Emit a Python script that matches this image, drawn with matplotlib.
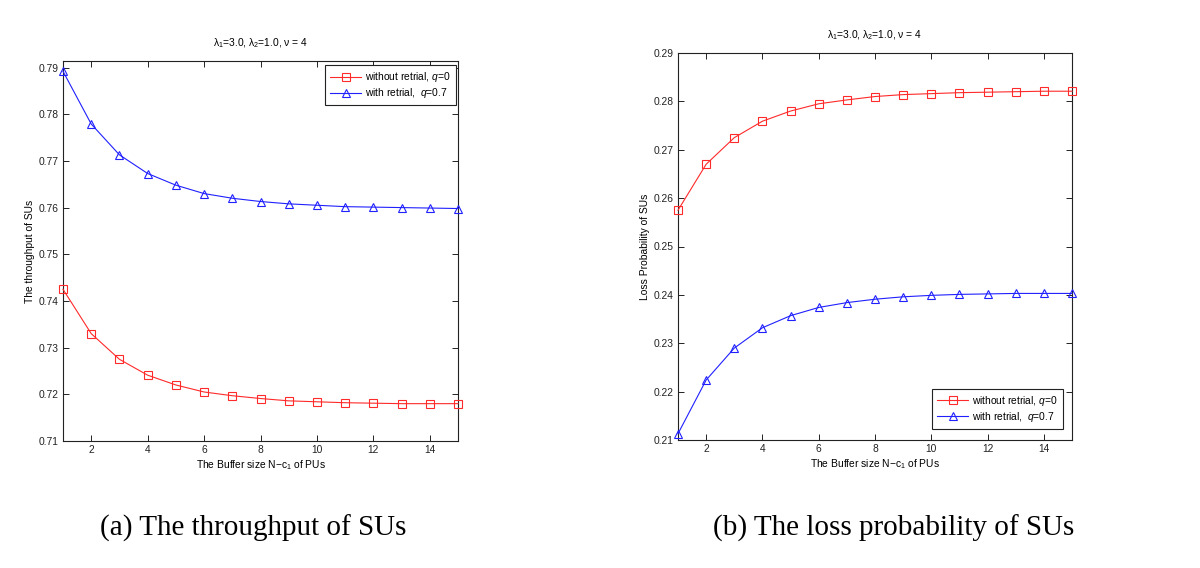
import matplotlib
matplotlib.use("Agg")
import matplotlib.pyplot as plt
import numpy as np

plt.rcParams['font.family'] = ['Liberation Sans', 'DejaVu Sans']
plt.rcParams['mathtext.fontset'] = 'custom'
plt.rcParams['mathtext.rm'] = 'Liberation Sans'
plt.rcParams['mathtext.it'] = 'Liberation Sans:italic'

buffer_size = list(range(1, 16))
thr_no_retrial = [0.7425, 0.7330, 0.7275, 0.7241, 0.7220, 0.7205, 0.7197, 0.7191,
                  0.7186, 0.7184, 0.7182, 0.7181, 0.7180, 0.7180, 0.7180]
thr_retrial = [0.7892, 0.7779, 0.7713, 0.7673, 0.7648, 0.7630, 0.7620, 0.7613,
               0.7608, 0.7605, 0.7602, 0.7601, 0.7600, 0.7599, 0.7598]
loss_no_retrial = [0.2575, 0.2670, 0.2725, 0.2759, 0.2780, 0.2795, 0.2803, 0.2810,
                   0.2814, 0.2816, 0.2818, 0.2819, 0.2820, 0.2821, 0.2821]
loss_retrial = [0.2113, 0.2224, 0.2290, 0.2332, 0.2357, 0.2374, 0.2384, 0.2391,
                0.2396, 0.2399, 0.2401, 0.2402, 0.2403, 0.2403, 0.2403]
xticks = [2, 4, 6, 8, 10, 12, 14]
yticks_a = [0.71, 0.72, 0.73, 0.74, 0.75, 0.76, 0.77, 0.78, 0.79]
yticks_b = [0.21, 0.22, 0.23, 0.24, 0.25, 0.26, 0.27, 0.28, 0.29]
label_no = 'without retrial, $q$=0'
label_re = 'with retrial,  $q$=0.7'
title = 'λ$_1$=3.0, λ$_2$=1.0, ν = 4'
xlabel = 'The Buffer size N−c$_1$ of PUs'
ylabel_a = 'The throughput of SUs'
ylabel_b = 'Loss Probability of SUs'
caption_a = '(a) The throughput of SUs'
caption_b = '(b) The loss probability of SUs'

W, H = 1200, 568
fig = plt.figure(figsize=(W / 100, H / 100), dpi=100)

def px_axes(l, t, r, b):
    return fig.add_axes([l / W, 1 - b / H, (r - l) / W, (b - t) / H])

ax1 = px_axes(63, 61, 458, 441)
ax2 = px_axes(678, 53, 1072, 440)

fs = 7.4
red = '#ff2a2a'
blue = '#2020ff'

def style(ax, yticks, ylim):
    ax.set_xlim(1, 15)
    ax.set_ylim(*ylim)
    ax.set_xticks(xticks)
    ax.set_yticks(yticks)
    ax.set_yticklabels([f'{v:.2f}' for v in yticks])
    ax.tick_params(direction='in', length=4, width=0.7, labelsize=fs,
                   top=True, right=True, pad=3, colors='#222222')
    for s in ax.spines.values():
        s.set_linewidth(0.8)
        s.set_color('#222222')
    ax.set_title(title, fontsize=fs, pad=11)
    ax.set_xlabel(xlabel, fontsize=fs, labelpad=2)

configs = [
    (ax1, thr_no_retrial, thr_retrial, yticks_a, (0.71, 0.7914), ylabel_a,
     'upper right', (0.995, 0.9895)),
    (ax2, loss_no_retrial, loss_retrial, yticks_b, (0.21, 0.29), ylabel_b,
     'lower right', (0.977, 0.028)),
]

for ax, yno, yre, yticks, ylim, ylab, loc, anchor in configs:
    ax.plot(buffer_size, yno, color=red, lw=0.8, marker='s', ms=5.2,
            mfc='none', mec=red, mew=0.8, label=label_no, clip_on=False, zorder=3)
    ax.plot(buffer_size, yre, color=blue, lw=0.8, marker='^', ms=6,
            mfc='none', mec=blue, mew=0.8, label=label_re, clip_on=False, zorder=3)
    style(ax, yticks, ylim)
    ax.set_ylabel(ylab, fontsize=fs, labelpad=3)
    leg = ax.legend(loc=loc, bbox_to_anchor=anchor, fontsize=fs, frameon=True,
                    fancybox=False, edgecolor='#222222', framealpha=1,
                    borderpad=0.5, handlelength=3.0, handletextpad=0.4,
                    labelspacing=0.2, borderaxespad=0.0)
    leg.get_frame().set_linewidth(0.8)

fig.text(253 / W, 1 - 528 / H, caption_a, family='Liberation Serif',
         fontsize=21, ha='center', va='center')
fig.text(894 / W, 1 - 528 / H, caption_b, family='Liberation Serif',
         fontsize=21, ha='center', va='center')

fig.savefig('out.png', dpi=100)
